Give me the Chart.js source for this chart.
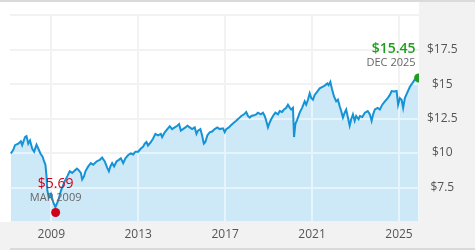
<!DOCTYPE html>
<html>
<head>
<meta charset="utf-8">
<script src="https://cdn.jsdelivr.net/npm/chart.js@4.4.0/dist/chart.umd.min.js"></script>
<style>
  html, body { margin: 0; padding: 0; background: #fff; }
  #wrap { width: 475px; height: 250px; }
</style>
</head>
<body>
<div id="wrap"><canvas id="navChart" width="475" height="250"></canvas></div>
<script>
// dates as decimal years, values in $
const dates = [
  2007.14, 2007.25, 2007.33, 2007.48, 2007.60, 2007.66, 2007.79, 2007.86, 2007.94, 2008.02,
  2008.12, 2008.21, 2008.32, 2008.40, 2008.50, 2008.60, 2008.67, 2008.73, 2008.78, 2008.82,
  2008.89, 2008.98, 2009.09, 2009.19, 2009.32, 2009.40, 2009.47, 2009.62, 2009.74, 2009.85,
  2009.96, 2010.08, 2010.18, 2010.24, 2010.36, 2010.42, 2010.51, 2010.57, 2010.70, 2010.82,
  2010.93, 2011.08, 2011.23, 2011.34, 2011.46, 2011.58, 2011.65, 2011.72, 2011.80, 2011.89,
  2012.00, 2012.11, 2012.20, 2012.31, 2012.41, 2012.54, 2012.66, 2012.77, 2012.87, 2013.00,
  2013.12, 2013.22, 2013.30, 2013.38, 2013.45, 2013.58, 2013.68, 2013.79, 2013.91, 2014.04,
  2014.10, 2014.22, 2014.34, 2014.45, 2014.56, 2014.68, 2014.80, 2014.88, 2014.96, 2015.06,
  2015.17, 2015.26, 2015.37, 2015.48, 2015.60, 2015.68, 2015.75, 2015.86, 2015.94, 2016.02,
  2016.09, 2016.18, 2016.29, 2016.40, 2016.52, 2016.64, 2016.75, 2016.90, 2016.98, 2017.05,
  2017.17, 2017.28, 2017.41, 2017.51, 2017.62, 2017.74, 2017.87, 2017.97, 2018.05, 2018.13,
  2018.20, 2018.33, 2018.43, 2018.51, 2018.64, 2018.74, 2018.82, 2018.89, 2018.97, 2019.05,
  2019.12, 2019.20, 2019.31, 2019.43, 2019.51, 2019.62, 2019.71, 2019.81, 2019.89, 2019.97,
  2020.04, 2020.12, 2020.17, 2020.23, 2020.32, 2020.43, 2020.54, 2020.66, 2020.73, 2020.81,
  2020.89, 2020.96, 2021.04, 2021.12, 2021.24, 2021.35, 2021.50, 2021.61, 2021.70, 2021.76,
  2021.84, 2021.91, 2022.01, 2022.11, 2022.19, 2022.27, 2022.34, 2022.42, 2022.50, 2022.57,
  2022.65, 2022.73, 2022.80, 2022.88, 2022.96, 2023.03, 2023.14, 2023.20, 2023.31, 2023.43,
  2023.56, 2023.66, 2023.74, 2023.81, 2023.89, 2024.02, 2024.12, 2024.23, 2024.35, 2024.48,
  2024.58, 2024.66, 2024.78, 2024.89, 2024.96, 2025.04, 2025.12, 2025.19, 2025.27, 2025.40,
  2025.50, 2025.61, 2025.70, 2025.81, 2025.90
];
const navValues = [
  9.97, 10.24, 10.57, 10.68, 10.85, 10.57, 11.16, 11.23, 10.68, 10.92,
  10.33, 10.10, 10.61, 10.33, 9.97, 9.74, 9.39, 9.15, 8.33, 7.26,
  6.79, 7.03, 6.44, 6.08, 6.56, 7.03, 7.38, 7.97, 8.33, 8.68,
  8.56, 8.73, 8.87, 8.80, 8.56, 8.09, 8.33, 8.68, 9.03, 9.27,
  9.15, 9.39, 9.51, 9.67, 9.39, 8.91, 8.68, 9.03, 9.27, 9.03,
  9.39, 9.51, 9.62, 9.27, 9.62, 9.86, 9.97, 9.90, 10.10, 10.10,
  10.33, 10.45, 10.68, 10.80, 10.55, 10.80, 11.04, 11.39, 11.28, 11.39,
  11.16, 11.51, 11.74, 11.94, 11.74, 11.86, 11.98, 12.10, 11.63, 11.74,
  11.86, 11.98, 11.86, 11.74, 11.86, 11.39, 11.63, 11.74, 11.28, 10.68,
  10.80, 11.28, 11.51, 11.56, 11.74, 11.86, 11.74, 11.79, 11.51, 11.74,
  11.86, 12.03, 12.22, 12.34, 12.50, 12.69, 12.81, 12.98, 12.69, 12.57,
  12.69, 12.74, 12.81, 12.93, 12.81, 12.93, 12.69, 12.34, 11.86, 12.22,
  12.45, 12.69, 12.93, 12.81, 13.05, 12.98, 13.16, 13.28, 13.51, 13.30,
  13.16, 13.28, 11.16, 12.10, 12.45, 12.93, 13.28, 13.75, 13.51, 13.87,
  14.34, 13.99, 13.87, 14.22, 14.46, 14.69, 14.81, 14.93, 15.05, 14.93,
  15.17, 14.69, 14.11, 13.75, 13.87, 13.40, 13.05, 12.57, 12.93, 13.16,
  12.57, 11.98, 12.45, 12.81, 12.34, 12.69, 12.45, 12.69, 12.62, 12.93,
  13.05, 12.81, 12.34, 12.81, 13.16, 13.28, 13.16, 13.51, 13.75, 13.99,
  14.22, 14.50, 14.46, 14.50, 13.51, 13.99, 13.87, 13.28, 13.99, 14.46,
  14.81, 15.05, 15.28, 15.40, 15.45
];
const xTicks = [2009, 2013, 2017, 2021, 2025];
const yTicks = [5, 7.5, 10, 12.5, 15, 17.5, 20];
const yLabelTicks = [7.5, 10, 12.5, 15, 17.5];

// low and latest markers
const markerDates = [2009.2, 2025.9];
const markerValues = [5.69, 15.45];
const markerLabels = ['MAR 2009', 'DEC 2025'];
const markerColors = ['#d0021b', '#1f9e1f'];

const FONT = '"Open Sans", "Noto Sans", sans-serif';

const panelPlugin = {
  id: 'panels',
  beforeDraw(chart) {
    const {ctx, chartArea: a, width: W, height: H} = chart;
    ctx.save();
    ctx.fillStyle = '#ffffff';
    ctx.fillRect(0, 0, W, H);
    ctx.fillStyle = '#f2f2f2';
    ctx.fillRect(a.right, 0, W - a.right, H);
    ctx.fillRect(0, a.bottom, W, H - a.bottom);
    ctx.fillStyle = '#dadada';
    ctx.fillRect(0, 0, W, 2);
    ctx.fillRect(a.left, H - 2, W - a.left, 2);
    ctx.restore();
  }
};

// grid lines drawn again on top of the area fill, under the line
const gridOverFill = {
  id: 'gridOverFill',
  beforeDatasetsDraw(chart) {
    const {ctx, chartArea: a, scales} = chart;
    ctx.save();
    ctx.strokeStyle = 'rgba(255,255,255,0.5)';
    ctx.lineWidth = 2;
    ctx.beginPath();
    scales.y.ticks.forEach(t => {
      const y = Math.round(scales.y.getPixelForValue(t.value));
      ctx.moveTo(a.left, y); ctx.lineTo(a.right, y);
    });
    scales.x.ticks.forEach(t => {
      const x = Math.round(scales.x.getPixelForValue(t.value));
      ctx.moveTo(x, a.top); ctx.lineTo(x, a.bottom);
    });
    ctx.stroke();
    ctx.restore();
  }
};

const markerText = {
  id: 'markerText',
  afterDatasetsDraw(chart) {
    const {ctx, scales} = chart;
    ctx.save();
    markerDates.forEach((d, i) => {
      const px = scales.x.getPixelForValue(d);
      const py = scales.y.getPixelForValue(markerValues[i]);
      const isLast = i === markerDates.length - 1;
      const tx = isLast ? px - 3 : px;
      ctx.textAlign = isLast ? 'right' : 'center';
      ctx.textBaseline = 'alphabetic';
      ctx.fillStyle = markerColors[i];
      ctx.font = (isLast ? '600 ' : '') + '14px ' + FONT;
      ctx.fillText('$' + markerValues[i].toFixed(2), tx, py - 24.5);
      ctx.fillStyle = '#666';
      ctx.font = '11px ' + FONT;
      ctx.fillText(markerLabels[i], tx, py - 11.5);
    });
    ctx.restore();
  }
};

new Chart(document.getElementById('navChart'), {
  type: 'line',
  data: {
    datasets: [
      {
        type: 'scatter',
        data: markerDates.map((d, i) => ({x: d, y: markerValues[i]})),
        pointRadius: 4.5,
        pointHoverRadius: 4.5,
        pointBackgroundColor: markerColors,
        pointBorderWidth: 0,
        showLine: false,
        order: 0
      },
      {
        data: dates.map((d, i) => ({x: d, y: navValues[i]})),
        borderColor: '#1593d6',
        borderWidth: 2,
        backgroundColor: '#cde9f7',
        fill: 'start',
        pointRadius: 0,
        tension: 0,
        order: 1
      }
    ]
  },
  options: {
    responsive: false,
    animation: false,
    layout: { padding: { left: 10, top: 10, right: 0, bottom: 3 } },
    plugins: {
      legend: { display: false },
      tooltip: { enabled: false },
      filler: { drawTime: 'beforeDatasetsDraw' }
    },
    scales: {
      x: {
        type: 'linear',
        min: 2007.1,
        max: 2025.92,
        afterBuildTicks: axis => { axis.ticks = xTicks.map(v => ({value: v})); },
        afterFit: axis => { axis.height = 25; },
        grid: { color: '#e4e4e4', lineWidth: 2, drawTicks: false },
        border: { display: false },
        ticks: {
          padding: 5,
          maxRotation: 0,
          color: '#555',
          font: { family: FONT, size: 12 },
          callback: v => String(v)
        }
      },
      y: {
        position: 'right',
        min: 5,
        max: 20,
        afterBuildTicks: axis => { axis.ticks = yTicks.map(v => ({value: v})); },
        afterFit: axis => { axis.width = 56; },
        grid: { color: '#e4e4e4', lineWidth: 2, drawTicks: false },
        border: { display: false },
        ticks: {
          padding: 8,
          crossAlign: 'center',
          color: '#555',
          font: { family: FONT, size: 12 },
          callback: v => yLabelTicks.includes(v) ? '$' + v : ''
        }
      }
    }
  },
  plugins: [panelPlugin, gridOverFill, markerText]
});
</script>
</body>
</html>
